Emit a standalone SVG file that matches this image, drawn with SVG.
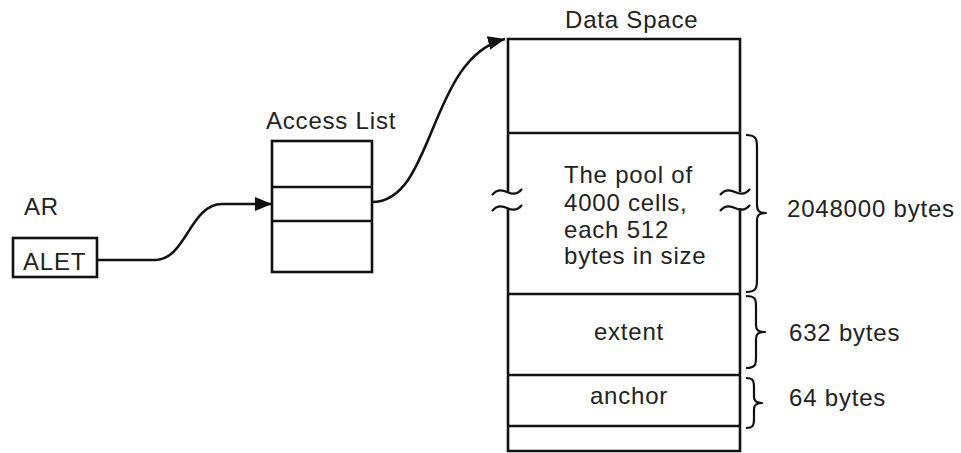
<svg xmlns="http://www.w3.org/2000/svg" width="961" height="453" viewBox="0 0 961 453">
<style>
  .ln{fill:none;stroke:#111;stroke-width:2.6;stroke-linecap:butt}
  .bx{fill:#fff;stroke:#111;stroke-width:2.6}
  .br{fill:none;stroke:#111;stroke-width:2.2;stroke-linejoin:round}
  text{font-family:"Liberation Sans",Arial,Helvetica,sans-serif;font-size:24px;fill:#222;letter-spacing:0.8px}
</style>
<defs>
  <marker id="arr" markerUnits="userSpaceOnUse" markerWidth="18" markerHeight="14" viewBox="0 0 18 14" refX="17" refY="7" orient="auto">
    <path d="M0,0 L17,7 L0,14 Z" fill="#111"/>
  </marker>
</defs>
<rect width="961" height="453" fill="#fff"/>

<g id="ar">
  <text x="24" y="215">AR</text>
  <rect class="bx" x="13" y="238" width="84" height="39"/>
  <text x="23" y="270">ALET</text>
</g>

<g id="access-list">
  <text x="266" y="129">Access List</text>
  <rect class="bx" x="272" y="141" width="100" height="131"/>
  <line class="ln" x1="272" y1="187" x2="372" y2="187"/>
  <line class="ln" x1="272" y1="221" x2="372" y2="221"/>
</g>

<g id="data-space">
  <text x="565" y="28">Data Space</text>
  <path class="ln" d="M508,192 L508,39 L740,39 L740,192"/>
  <path class="ln" d="M508,208 L508,451 L740,451 L740,208"/>
  <line class="ln" x1="508" y1="133" x2="740" y2="133"/>
  <line class="ln" x1="508" y1="294" x2="740" y2="294"/>
  <line class="ln" x1="508" y1="375" x2="740" y2="375"/>
  <line class="ln" x1="508" y1="426" x2="740" y2="426"/>
  <path class="br" d="M492,195 c4,-5 9,-6 15,-3 s11,2 15,-3"/>
  <path class="br" d="M492,211 c4,-5 9,-6 15,-3 s11,2 15,-3"/>
  <path class="br" d="M720,195 c4,-5 9,-6 15,-3 s11,2 15,-3"/>
  <path class="br" d="M720,211 c4,-5 9,-6 15,-3 s11,2 15,-3"/>
  <text x="564" y="183">The pool of</text>
  <text x="564" y="211">4000 cells,</text>
  <text x="564" y="238">each 512</text>
  <text x="564" y="264">bytes in size</text>
  <text x="629" y="340" text-anchor="middle">extent</text>
  <text x="629" y="404" text-anchor="middle">anchor</text>
</g>

<g id="braces">
  <path class="br" d="M746,135 C757,135 757,140 757,148 L757,205 C757,211 759,213 766,213 C759,213 757,215 757,221 L757,279 C757,287 757,292 746,292"/>
  <path class="br" d="M746,296 C756,296 756,300 756,307 L756,325 C756,330 758,332 765,332 C758,332 756,334 756,339 L756,357 C756,364 756,368 746,368"/>
  <path class="br" d="M746,378 C754,378 754,382 754,388 L754,397 C754,401 756,403 762,403 C756,403 754,405 754,409 L754,418 C754,424 754,428 746,428"/>
  <text x="787" y="217">2048000 bytes</text>
  <text x="789" y="341">632 bytes</text>
  <text x="789" y="406">64 bytes</text>
</g>

<g id="connectors">
  <path class="ln" d="M97,260 L155,260 C186,260 190,204 222,204 L272,204" marker-end="url(#arr)"/>
  <path class="ln" d="M372,202 C435,202 428,58 505,39" marker-end="url(#arr)"/>
</g>
</svg>
